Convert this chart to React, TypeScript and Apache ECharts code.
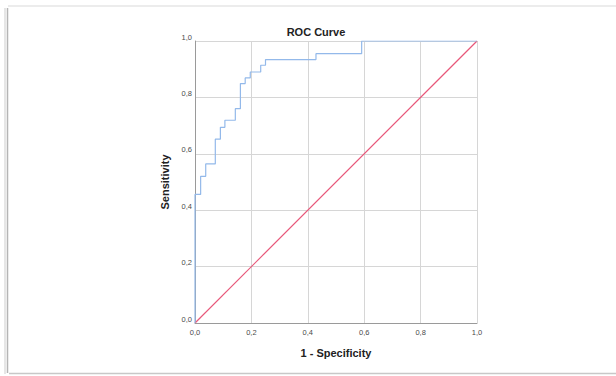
import React, { useEffect, useRef } from "react";
import * as echarts from "echarts";

const rocFpr = [0, 0, 0.02, 0.038, 0.072, 0.09, 0.106, 0.143, 0.161, 0.178, 0.196, 0.233, 0.25, 0.429, 0.591, 1.0];
const rocTpr = [0, 0.456, 0.52, 0.564, 0.652, 0.694, 0.719, 0.76, 0.849, 0.869, 0.89, 0.914, 0.934, 0.955, 1.0, 1.0];
const refLine = [[0, 0], [1, 1]];
const titleText = "ROC Curve";
const xName = "1 - Specificity";
const yName = "Sensitivity";

const fmt = (v: number) => v.toFixed(1).replace(".", ",");

export default function App() {
  const ref = useRef<HTMLDivElement>(null);
  useEffect(() => {
    if (!ref.current) return;
    const chart = echarts.init(ref.current, null, { renderer: "svg" });
    const font = "'Liberation Sans', Arial, sans-serif";
    chart.setOption({
      animation: false,
      backgroundColor: "#ffffff",
      grid: { left: 195, top: 41, width: 282, height: 282, containLabel: false },
      xAxis: {
        type: "value",
        min: 0,
        max: 1,
        interval: 0.2,
        name: xName,
        nameLocation: "middle",
        nameGap: 24,
        nameTextStyle: { fontFamily: font, fontSize: 11, fontWeight: "bold", color: "#222" },
        axisLine: { show: true, lineStyle: { color: "#9a9a9a", width: 1 } },
        axisTick: { show: false },
        axisLabel: { formatter: fmt, fontFamily: font, fontSize: 7.5, color: "#4a4a4a", margin: 5 },
        splitLine: { show: true, lineStyle: { color: "#d6d6d6", width: 1 } },
      },
      yAxis: {
        type: "value",
        min: 0,
        max: 1,
        interval: 0.2,
        name: yName,
        nameLocation: "middle",
        nameGap: 25,
        nameTextStyle: { fontFamily: font, fontSize: 11, fontWeight: "bold", color: "#222" },
        axisLine: { show: true, lineStyle: { color: "#9a9a9a", width: 1 } },
        axisTick: { show: false },
        axisLabel: { formatter: fmt, fontFamily: font, fontSize: 7.5, color: "#4a4a4a", margin: 3, verticalAlign: "bottom" },
        splitLine: { show: true, lineStyle: { color: "#d6d6d6", width: 1 } },
      },
      series: [
        {
          type: "line",
          data: refLine,
          showSymbol: false,
          lineStyle: { color: "#e8587a", width: 1.2 },
          z: 2,
        },
        {
          type: "line",
          step: "end",
          data: rocFpr.map((x, i) => [x, rocTpr[i]]),
          showSymbol: false,
          lineStyle: { color: "#93b9ea", width: 1.2 },
          z: 3,
        },
      ],
      graphic: [
        { type: "line", shape: { x1: 5, y1: 8, x2: 5, y2: 374 }, style: { stroke: "#e6e6e6", lineWidth: 2 } },
        { type: "line", shape: { x1: 7.5, y1: 8, x2: 7.5, y2: 373 }, style: { stroke: "#b5b5b5", lineWidth: 1.5 } },
        { type: "line", shape: { x1: 8, y1: 6, x2: 616, y2: 6 }, style: { stroke: "#ececec", lineWidth: 2 } },
        { type: "line", shape: { x1: 9, y1: 373.5, x2: 616, y2: 373.5 }, style: { stroke: "#c8c8c8", lineWidth: 1.5 } },
        {
          type: "text",
          x: 316,
          y: 32,
          style: {
            text: titleText,
            textAlign: "center",
            textVerticalAlign: "middle",
            fontFamily: font,
            fontSize: 11,
            fontWeight: "bold",
            fill: "#222",
          },
        },
      ],
    });
    return () => chart.dispose();
  }, []);
  return (
    <div
      ref={ref}
      style={{ position: "absolute", left: 0, top: 0, width: 616, height: 376 }}
    />
  );
}
